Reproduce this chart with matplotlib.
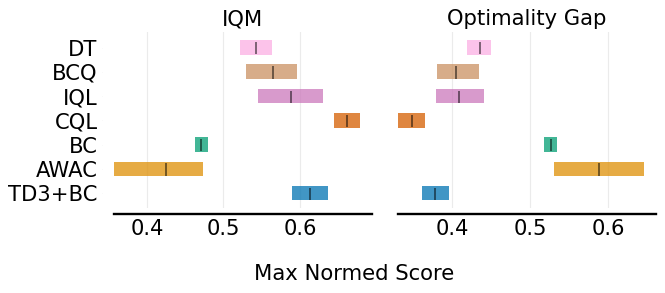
import matplotlib
matplotlib.use('Agg')
import matplotlib.pyplot as plt
import numpy as np

algorithms = ['TD3+BC', 'AWAC', 'BC', 'CQL', 'IQL', 'BCQ', 'DT']
metric_names = ['IQM', 'Optimality Gap']
colors = ['#0173b2', '#de8f05', '#029e73', '#d55e00', '#cc78bc', '#ca9161', '#fbafe4']

# point estimates and confidence intervals, one row per algorithm
iqm_point = [0.613, 0.425, 0.471, 0.661, 0.588, 0.565, 0.542]
iqm_lower = [0.590, 0.357, 0.463, 0.644, 0.545, 0.530, 0.522]
iqm_upper = [0.636, 0.473, 0.480, 0.678, 0.630, 0.596, 0.564]

gap_point = [0.378, 0.588, 0.527, 0.348, 0.409, 0.405, 0.435]
gap_lower = [0.361, 0.530, 0.518, 0.330, 0.379, 0.380, 0.419]
gap_upper = [0.396, 0.646, 0.535, 0.365, 0.441, 0.434, 0.450]

fs = 15.2
h = 0.6

fig = plt.figure(figsize=(6.65, 2.93), dpi=100)
ax1 = fig.add_axes([0.1714, 0.289, 0.388, 0.601])
ax2 = fig.add_axes([0.5985, 0.289, 0.388, 0.601])

panels = [(ax1, iqm_point, iqm_lower, iqm_upper), (ax2, gap_point, gap_lower, gap_upper)]
for idx, (ax, point, lower, upper) in enumerate(panels):
    lower = np.asarray(lower)
    upper = np.asarray(upper)
    for i in range(len(algorithms)):
        ax.barh(y=i, width=upper[i] - lower[i], height=h, left=lower[i],
                color=colors[i], alpha=0.75)
        ax.vlines(x=point[i], ymin=i - 7.5 * h / 16, ymax=i + 6 * h / 16,
                  color='k', alpha=0.5, linewidth=1.4)
    ax.xaxis.set_major_locator(plt.MaxNLocator(4))
    ax.set_yticks(list(range(len(algorithms))))
    if idx != 0:
        ax.set_yticks([])
    else:
        ax.set_yticklabels(algorithms, fontsize=fs)
    ax.set_title(metric_names[idx], fontsize=fs, pad=5)
    ax.spines['top'].set_visible(False)
    ax.spines['right'].set_visible(False)
    ax.spines['left'].set_visible(False)
    ax.spines['bottom'].set_linewidth(1.7)
    ax.spines['left'].set_position(('outward', 8.6))
    ax.spines['bottom'].set_position(('outward', 4.3))
    ax.tick_params(length=0.1, width=0.1, labelsize=fs, pad=3)
    ax.grid(True, axis='x', alpha=0.25)
    ax.set_axisbelow(True)

fig.text(0.533, 0.044, 'Max Normed Score', ha='center', va='baseline', fontsize=fs)
fig.savefig('out.png', dpi=100)
